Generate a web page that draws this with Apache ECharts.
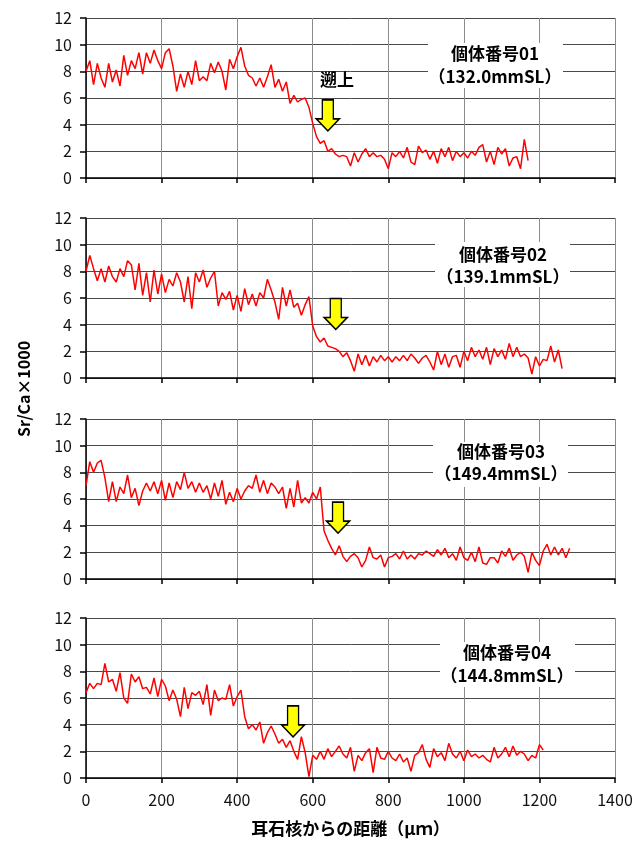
<!DOCTYPE html>
<html>
<head>
<meta charset="utf-8">
<script src="https://cdn.jsdelivr.net/npm/echarts@6/dist/echarts.min.js"></script>
<style>
  html, body { margin: 0; padding: 0; background: #fff; }
  #chart { width: 638px; height: 842px; }
</style>
</head>
<body>
<div id="chart"></div>
<script>
  // 測定間隔（μm）
  const STEP = 10;

  // Sr/Ca×1000 の値（耳石核から 0μm ごとに STEP 間隔）
  const fish01 = [
    8.0, 8.8, 7.0, 8.6, 7.5, 6.8, 8.6, 7.2, 8.1, 6.9,
    9.2, 7.7, 8.8, 8.2, 9.4, 7.8, 9.4, 8.6, 9.6, 8.8,
    8.2, 9.4, 9.7, 8.4, 6.5, 7.8, 6.8, 8.0, 7.0, 8.8,
    7.3, 7.6, 7.3, 8.6, 7.9, 8.7, 8.0, 6.6, 8.9, 8.2,
    9.1, 9.8, 8.4, 7.7, 7.5, 6.9, 7.5, 6.8, 7.6, 8.5,
    6.8, 7.4, 6.5, 7.2, 5.6, 6.2, 5.7, 5.9, 6.0, 5.3,
    4.1, 3.1, 2.6, 2.8, 2.0, 2.2, 1.8, 1.6, 1.7, 1.6,
    0.9, 1.9, 1.2, 1.8, 2.2, 1.6, 1.9, 1.6, 1.7, 1.4,
    0.7, 1.9, 1.6, 2.0, 1.5, 2.3, 1.2, 1.0, 2.4, 1.9,
    2.1, 1.4, 2.0, 1.1, 2.2, 1.6, 2.3, 1.3, 2.0, 1.6,
    1.9, 1.5, 2.0, 1.7, 2.3, 2.5, 1.2, 2.0, 1.0, 2.3,
    1.8, 2.2, 0.9, 1.5, 1.6, 0.7, 2.9, 1.3
  ];
  const fish02 = [
    8.0, 9.2, 8.2, 7.3, 8.2, 7.2, 8.4, 7.6, 7.2, 8.2,
    7.6, 8.8, 8.5, 6.6, 8.6, 6.2, 7.9, 5.7, 8.1, 6.3,
    7.8, 6.4, 7.4, 6.9, 7.9, 7.2, 5.7, 7.6, 5.2, 7.9,
    7.2, 8.1, 6.8, 7.5, 8.0, 5.4, 6.4, 5.9, 6.5, 5.1,
    6.2, 5.0, 6.7, 5.5, 6.3, 5.4, 6.4, 6.0, 7.4, 6.6,
    5.7, 4.4, 6.8, 5.4, 6.6, 5.3, 5.6, 4.7, 5.5, 6.1,
    3.9, 3.1, 2.7, 3.0, 2.4, 2.3, 2.2, 2.0, 1.6, 1.9,
    1.3, 0.5, 1.8, 1.0, 1.7, 0.9, 1.6, 1.2, 1.7, 1.3,
    1.6, 1.2, 1.6, 1.3, 1.7, 1.3, 1.8, 1.5, 1.1, 1.5,
    1.7, 1.2, 0.6, 2.0, 1.0, 1.8, 0.8, 1.6, 1.7, 0.8,
    2.0, 1.3, 2.3, 1.6, 2.1, 1.4, 2.3, 1.0, 2.2, 1.6,
    2.1, 1.4, 2.6, 1.6, 2.3, 1.6, 1.8, 1.5, 0.3, 1.6,
    0.9, 1.4, 1.3, 2.4, 1.2, 2.1, 0.7
  ];
  const fish03 = [
    7.0, 8.8, 8.0, 8.7, 8.9, 7.6, 5.8, 7.3, 5.8, 6.9,
    6.4, 7.8, 6.1, 6.8, 5.5, 6.6, 7.2, 6.6, 7.3, 6.4,
    7.4, 5.9, 7.2, 6.1, 7.3, 6.7, 8.0, 6.8, 7.3, 6.5,
    7.2, 6.5, 7.0, 6.0, 7.2, 6.2, 7.4, 5.6, 6.5, 5.8,
    6.8, 6.0, 6.6, 7.0, 6.8, 7.8, 6.5, 7.4, 6.4, 7.2,
    6.9, 6.4, 6.9, 5.3, 6.8, 5.4, 7.4, 5.7, 6.1, 5.7,
    6.5, 6.0, 6.9, 3.6, 2.9, 2.3, 1.8, 2.5, 1.7, 1.3,
    1.7, 1.9, 1.6, 0.9, 1.4, 2.4, 1.6, 1.5, 1.8, 0.9,
    1.6, 1.7, 1.9, 1.5, 2.1, 1.5, 1.8, 1.5, 1.9, 1.8,
    2.1, 1.9, 1.7, 2.2, 1.8, 2.3, 1.6, 1.9, 1.4, 2.4,
    1.6, 1.4, 2.0, 1.3, 2.4, 1.2, 1.1, 1.6, 1.6, 1.2,
    2.1, 1.7, 2.3, 1.4, 1.8, 2.0, 1.7, 0.5, 2.0, 1.4,
    1.0, 2.1, 2.6, 1.8, 2.4, 1.8, 2.3, 1.6, 2.3
  ];
  const fish04 = [
    6.4, 7.1, 6.7, 7.1, 7.0, 8.6, 7.2, 7.4, 6.5, 7.9,
    6.0, 5.6, 7.8, 7.2, 7.6, 6.7, 6.8, 6.3, 7.5, 6.1,
    7.4, 6.9, 5.8, 6.6, 5.9, 4.6, 6.8, 5.2, 6.4, 6.2,
    6.5, 5.5, 7.0, 4.7, 6.6, 5.8, 6.0, 5.9, 7.0, 5.4,
    6.1, 6.6, 4.6, 3.7, 4.0, 3.6, 4.2, 2.6, 3.4, 3.9,
    3.3, 2.6, 2.9, 2.3, 2.8, 2.0, 1.4, 3.1, 1.9, 0.1,
    1.7, 1.4, 2.0, 1.4, 2.2, 1.6, 2.0, 2.4, 1.8, 1.5,
    2.3, 0.5, 1.7, 1.3, 1.9, 2.2, 0.4, 2.3, 1.5, 1.4,
    2.0, 1.5, 1.3, 1.8, 1.2, 1.5, 0.5, 1.7, 1.9, 2.5,
    1.4, 0.8, 2.2, 1.6, 1.9, 1.3, 2.6, 1.8, 1.5, 2.0,
    1.3, 2.1, 1.6, 1.8, 1.5, 1.7, 1.4, 1.2, 2.3, 1.5,
    1.8, 2.3, 1.6, 2.4, 1.7, 2.0, 1.8, 1.3, 1.7, 1.5,
    2.5, 2.1
  ];

  const fishValues = [fish01, fish02, fish03, fish04];
  const fishNames = ["個体番号01", "個体番号02", "個体番号03", "個体番号04"];
  const fishLengths = ["（132.0mmSL）", "（139.1mmSL）", "（149.4mmSL）", "（144.8mmSL）"];
  // 遡上の位置（矢印）：[距離, 矢印中央の値]
  const arrowAt = [[640, 4.7], [661, 4.8], [667, 4.6], [548, 4.25]];

  const xTicks = { min: 0, max: 1400, interval: 200 };
  const yTicks = { min: 0, max: 12, interval: 2 };

  const FONT = "'Noto Sans CJK JP', 'Noto Sans', sans-serif";
  const gridTops = [18, 218, 419, 618];
  const boxes = [
    { x: 428, y: 43, cx: 495, l1: 54, l2: 77 },
    { x: 435, y: 242, cx: 503, l1: 255, l2: 277 },
    { x: 433, y: 442, cx: 501, l1: 452, l2: 474 },
    { x: 440, y: 642, cx: 507, l1: 653, l2: 676 }
  ];
  const arrowPath = "path://M6,0 L17,0 L17,19 L23,19 L11.5,31 L0,19 L6,19 Z";

  const myChart = echarts.init(document.getElementById("chart"), null, { renderer: "canvas" });

  const grids = [], xAxes = [], yAxes = [], series = [], graphics = [];
  fishValues.forEach(function (vals, k) {
    grids.push({ left: 86, right: 23, top: gridTops[k], height: 160 });
    xAxes.push({
      type: "value", gridIndex: k,
      min: xTicks.min, max: xTicks.max, interval: xTicks.interval,
      axisLine: { show: true, onZero: false, lineStyle: { color: "#000", width: 1.5 } },
      axisTick: { show: true, inside: false, length: 5, lineStyle: { color: "#000", width: 1.5 } },
      axisLabel: {
        show: k === 3, fontSize: 16, color: "#111", fontFamily: FONT, margin: 14,
        formatter: function (v) { return String(v); }
      },
      splitLine: { show: true, lineStyle: { color: "#8c8c8c", width: 1 } },
      name: k === 3 ? "耳石核からの距離（μｍ）" : "",
      nameLocation: "middle",
      nameGap: 42,
      nameTextStyle: { fontSize: 17, fontWeight: "bold", color: "#000", fontFamily: FONT }
    });
    yAxes.push({
      type: "value", gridIndex: k,
      min: yTicks.min, max: yTicks.max, interval: yTicks.interval,
      axisLine: { show: true, lineStyle: { color: "#000", width: 1.5 } },
      axisTick: { show: true, inside: false, length: 6, lineStyle: { color: "#000", width: 1.5 } },
      axisLabel: { fontSize: 16, color: "#111", fontFamily: FONT, margin: 14 },
      splitLine: { show: true, lineStyle: { color: "#4a4a4a", width: 1 } }
    });
    series.push({
      type: "line", xAxisIndex: k, yAxisIndex: k,
      data: vals.map(function (v, i) { return [i * STEP, v]; }),
      showSymbol: false, symbol: "none",
      lineStyle: { color: "#ff0000", width: 1.5 },
      z: 3,
      markPoint: {
        symbol: arrowPath,
        symbolSize: [23, 31],
        symbolKeepAspect: false,
        silent: true,
        itemStyle: { color: "#ffff00", borderColor: "#000", borderWidth: 1.5 },
        label: { show: false },
        data: [{ coord: arrowAt[k] }]
      }
    });
    const b = boxes[k];
    graphics.push({
      type: "rect", z: 100,
      shape: { x: b.x, y: b.y, width: 135, height: 45 },
      style: { fill: "#fff" }
    });
    graphics.push({
      type: "text", z: 101, x: b.cx, y: b.l1,
      style: { text: fishNames[k], font: "bold 17px " + FONT, fill: "#000", align: "center", verticalAlign: "middle" }
    });
    graphics.push({
      type: "text", z: 101, x: b.cx, y: b.l2,
      style: { text: fishLengths[k], font: "bold 17px " + FONT, fill: "#000", align: "center", verticalAlign: "middle" }
    });
  });

  // 遡上
  graphics.push({
    type: "text", z: 101, x: 337, y: 80,
    style: { text: "遡上", font: "bold 17px " + FONT, fill: "#000", align: "center", verticalAlign: "middle" }
  });
  // 縦軸タイトル
  graphics.push({
    type: "text", z: 101, x: 24, y: 389, rotation: Math.PI / 2,
    style: { text: "Sr/Ca×1000", font: "bold 16px " + FONT, fill: "#000", align: "center", verticalAlign: "middle" }
  });

  const option = {
    animation: false,
    backgroundColor: "#fff",
    grid: grids,
    xAxis: xAxes,
    yAxis: yAxes,
    series: series,
    graphic: graphics
  };

  myChart.setOption(option);
  window.addEventListener("resize", function () {
    myChart.resize();
  });
</script>
</body>
</html>
